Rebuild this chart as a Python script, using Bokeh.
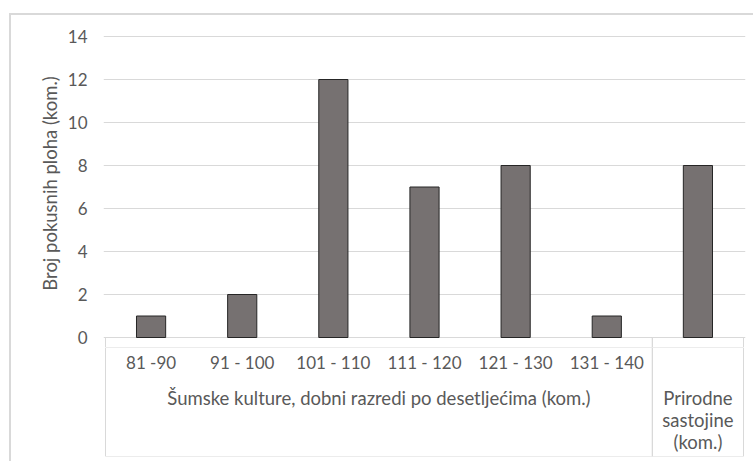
from bokeh.plotting import figure
from bokeh.layouts import column
from bokeh.models import FactorRange, Range1d, FixedTicker, ColumnDataSource
from bokeh.core.properties import value
from bokeh.embed import file_html
from bokeh.resources import INLINE

# ---------------- data ----------------
groups = ["Šumske kulture, dobni razredi po desetljećima (kom.)", "Prirodne sastojine (kom.)"]
group_labels = ["Šumske kulture, dobni razredi po desetljećima (kom.)", "Prirodne\nsastojine\n(kom.)"]
classes = [["81 -90", "91 - 100", "101 - 110", "111 - 120", "121 - 130", "131 - 140"], [" "]]
class_labels = ["81 -90", "91 - 100", "101 - 110", "111 - 120", "121 - 130", "131 - 140", ""]
counts = [1, 2, 12, 7, 8, 1, 8]
y_ticks = [0, 2, 4, 6, 8, 10, 12, 14]
y_title = "Broj pokusnih ploha (kom.)"

# ---------------- style ----------------
FONT = "Lato"
TXT = "#595959"
GRID = "#d9d9d9"
FS_NUM = "17px"
FS_WORD = "18.5px"
W = 742

factors = [(g, c) for g, cs in zip(groups, classes) for c in cs]
group_sizes = [len(cs) for cs in classes]

x_range = FactorRange(*factors, range_padding=0.022, range_padding_units="absolute",
                      factor_padding=0, group_padding=0, subgroup_padding=0)


def base(height, y_range, top, bottom):
    f = figure(width=W, height=height, x_range=x_range, y_range=y_range,
               output_backend="svg", toolbar_location=None,
               min_border_left=92, min_border_right=8,
               min_border_top=top, min_border_bottom=bottom)
    f.outline_line_color = None
    f.background_fill_color = "white"
    f.border_fill_color = "white"
    f.xaxis.visible = False
    f.xgrid.grid_line_color = None
    # category-axis boxes (separators)
    f.vbar(x=groups, width=group_sizes, top=0, bottom=-8, fill_alpha=0,
           line_color=GRID, line_width=1)
    return f


# ---- upper part: bars and value axis ----
p = base(332, Range1d(-0.465, 14.791), 4, 0)
p.ygrid.grid_line_color = GRID
p.ygrid.grid_line_width = 1
yax = p.yaxis[0]
yax.ticker = FixedTicker(ticks=y_ticks)
yax.axis_line_color = None
yax.major_tick_line_color = None
yax.minor_tick_line_color = None
yax.major_label_standoff = 10
yax.major_label_text_font = FONT
yax.major_label_text_font_size = FS_NUM
yax.major_label_text_color = TXT
yax.axis_label = y_title
yax.axis_label_text_font = FONT
yax.axis_label_text_font_size = FS_WORD
yax.axis_label_text_font_style = "normal"
yax.axis_label_text_color = TXT
yax.axis_label_standoff = 4

src = ColumnDataSource(dict(x=factors, top=counts, lab=class_labels))
p.vbar(x="x", top="top", width=0.32, source=src, fill_color="#767171",
       line_color="#262626", line_width=1)

# ---- lower part: multi-level category labels ----
q = base(114, Range1d(-5.535, -0.465), 0, 5)
q.yaxis.visible = False
q.ygrid.grid_line_color = None

q.text(x="x", y=-1.163, text="lab", source=src, text_align="center",
       text_baseline="middle", text_font=value(FONT), text_font_size=FS_NUM,
       text_color=TXT)

gsrc = ColumnDataSource(dict(x=groups, lab=group_labels))
q.text(x="x", y=-2.28, text="lab", source=gsrc, text_align="center",
       text_baseline="top", text_font=value(FONT), text_font_size=FS_WORD,
       text_color=TXT, text_line_height=1.0)

layout = column(p, q, spacing=0)
layout.styles = {"margin-left": "9px", "margin-top": "13px",
                 "border-left": f"2px solid {GRID}", "border-top": f"2px solid {GRID}"}

open("out.html", "w").write(file_html(layout, INLINE))
